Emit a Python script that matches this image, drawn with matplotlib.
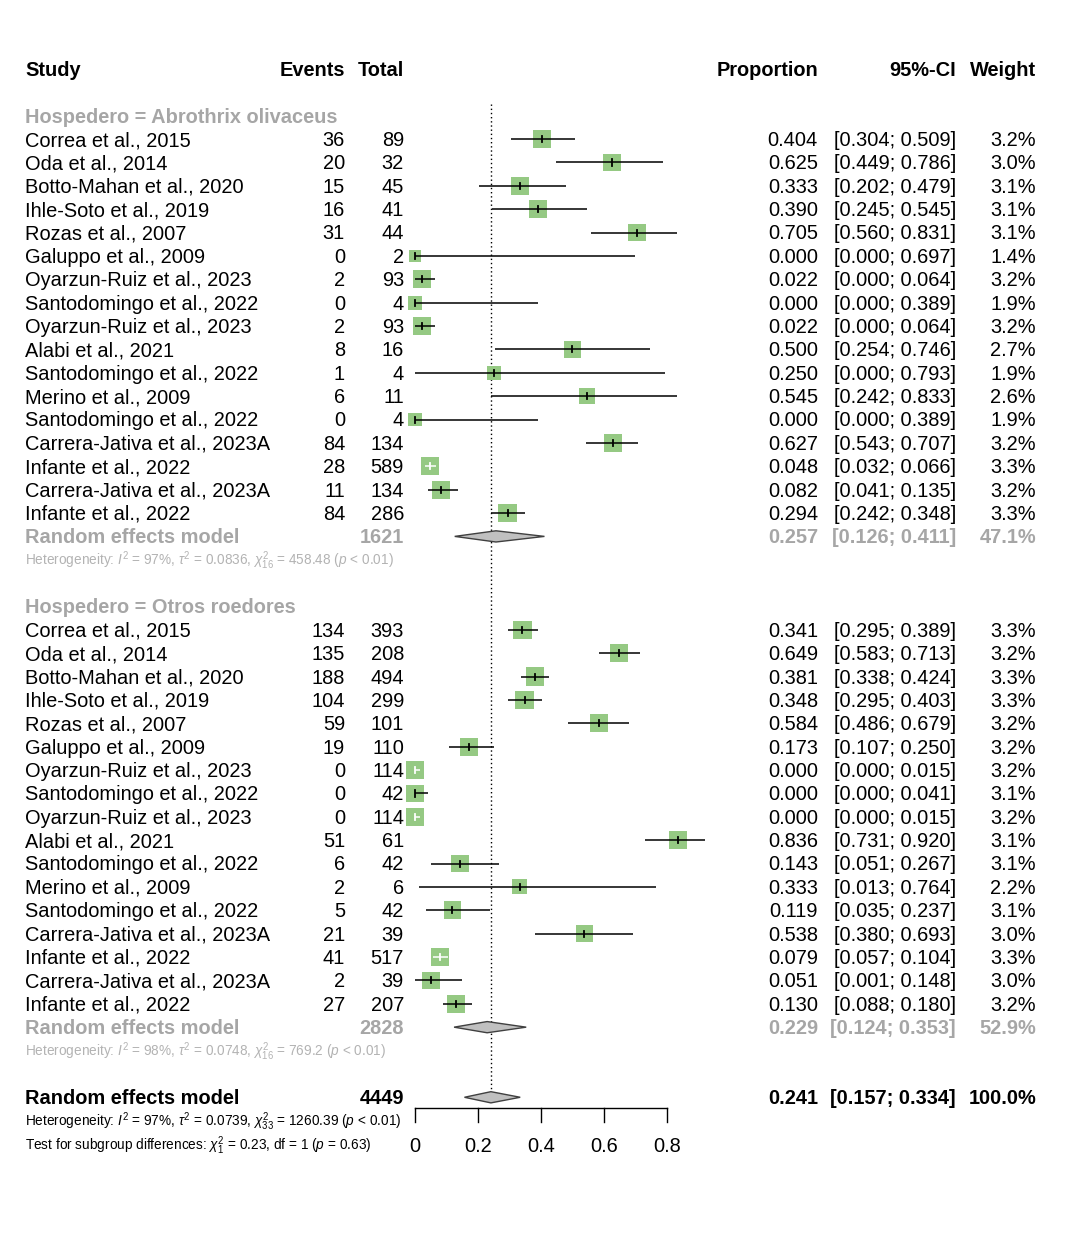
import numpy as np
import matplotlib
matplotlib.use("Agg")
import matplotlib.pyplot as plt
from matplotlib.patches import Polygon

plt.rcParams['font.family'] = ['Liberation Sans', 'DejaVu Sans']
plt.rcParams['mathtext.fontset'] = 'custom'
plt.rcParams['mathtext.rm'] = 'Liberation Sans'
plt.rcParams['mathtext.it'] = 'Liberation Sans:italic'
plt.rcParams['mathtext.bf'] = 'Liberation Sans:bold'

# ---- data -------------------------------------------------------------
studies = ["Correa et al., 2015", "Oda et al., 2014", "Botto-Mahan et al., 2020",
           "Ihle-Soto et al., 2019", "Rozas et al., 2007", "Galuppo et al., 2009",
           "Oyarzun-Ruiz et al., 2023", "Santodomingo et al., 2022",
           "Oyarzun-Ruiz et al., 2023", "Alabi et al., 2021",
           "Santodomingo et al., 2022", "Merino et al., 2009",
           "Santodomingo et al., 2022", "Carrera-Jativa et al., 2023A",
           "Infante et al., 2022", "Carrera-Jativa et al., 2023A",
           "Infante et al., 2022"]

# Hospedero = Abrothrix olivaceus
events_a = [36, 20, 15, 16, 31, 0, 2, 0, 2, 8, 1, 6, 0, 84, 28, 11, 84]
total_a = [89, 32, 45, 41, 44, 2, 93, 4, 93, 16, 4, 11, 4, 134, 589, 134, 286]
prop_a = [0.404, 0.625, 0.333, 0.390, 0.705, 0.000, 0.022, 0.000, 0.022, 0.500,
          0.250, 0.545, 0.000, 0.627, 0.048, 0.082, 0.294]
lo_a = [0.304, 0.449, 0.202, 0.245, 0.560, 0.000, 0.000, 0.000, 0.000, 0.254,
        0.000, 0.242, 0.000, 0.543, 0.032, 0.041, 0.242]
hi_a = [0.509, 0.786, 0.479, 0.545, 0.831, 0.697, 0.064, 0.389, 0.064, 0.746,
        0.793, 0.833, 0.389, 0.707, 0.066, 0.135, 0.348]
weight_a = [3.2, 3.0, 3.1, 3.1, 3.1, 1.4, 3.2, 1.9, 3.2, 2.7, 1.9, 2.6, 1.9,
            3.2, 3.3, 3.2, 3.3]

# Hospedero = Otros roedores
events_b = [134, 135, 188, 104, 59, 19, 0, 0, 0, 51, 6, 2, 5, 21, 41, 2, 27]
total_b = [393, 208, 494, 299, 101, 110, 114, 42, 114, 61, 42, 6, 42, 39, 517, 39, 207]
prop_b = [0.341, 0.649, 0.381, 0.348, 0.584, 0.173, 0.000, 0.000, 0.000, 0.836,
          0.143, 0.333, 0.119, 0.538, 0.079, 0.051, 0.130]
lo_b = [0.295, 0.583, 0.338, 0.295, 0.486, 0.107, 0.000, 0.000, 0.000, 0.731,
        0.051, 0.013, 0.035, 0.380, 0.057, 0.001, 0.088]
hi_b = [0.389, 0.713, 0.424, 0.403, 0.679, 0.250, 0.015, 0.041, 0.015, 0.920,
        0.267, 0.764, 0.237, 0.693, 0.104, 0.148, 0.180]
weight_b = [3.3, 3.2, 3.3, 3.3, 3.2, 3.2, 3.2, 3.1, 3.2, 3.1, 3.1, 2.2, 3.1,
            3.0, 3.3, 3.0, 3.2]

group_labels = ["Hospedero = Abrothrix olivaceus", "Hospedero = Otros roedores"]
re_total = [1621, 2828]
re_est = [0.257, 0.229]
re_lo = [0.126, 0.124]
re_hi = [0.411, 0.353]
re_weight = [47.1, 52.9]
het_text = [r"Heterogeneity: $I^2$ = 97%, $\tau^2$ = 0.0836, $\chi^2_{16}$ = 458.48 ($p$ < 0.01)",
            r"Heterogeneity: $I^2$ = 98%, $\tau^2$ = 0.0748, $\chi^2_{16}$ = 769.2 ($p$ < 0.01)"]

overall_total = 4449
overall_est, overall_lo, overall_hi = 0.241, 0.157, 0.334
overall_het = r"Heterogeneity: $I^2$ = 97%, $\tau^2$ = 0.0739, $\chi^2_{33}$ = 1260.39 ($p$ < 0.01)"
subgroup_test = r"Test for subgroup differences: $\chi^2_1$ = 0.23, df = 1 ($p$ = 0.63)"

xticks = [0, 0.2, 0.4, 0.6, 0.8]

# ---- layout -------------------------------------------------------------
W, H = 1068, 1242
px_per_unit = 315.0
x0_px = 415.0
row0_px = 69.0
row_px = 23.37

fig = plt.figure(figsize=(W / 100, H / 100), dpi=100)
ax = fig.add_axes([0, 0, 1, 1])
ax.set_xlim(-x0_px / px_per_unit, (W - x0_px) / px_per_unit)
ax.set_ylim((H - row0_px) / row_px, -row0_px / row_px)
ax.axis('off')

tr = ax.get_yaxis_transform()  # x in axes fraction, y in data rows


def col(px):
    return px / W


FS = 14.4
SMALL = 9.8
GREY = '#a6a6a6'
SQ = '#95c983'
TXT_DY = 0.06  # text sits a touch lower than the marks


def txt(x, y, s, ha='left', color='black', weight='normal', size=FS):
    ax.text(col(x), y + TXT_DY, s, transform=tr, ha=ha, va='center', color=color,
            fontweight=weight, fontsize=size)


# header
for x, s, ha in [(25, "Study", 'left'), (345, "Events", 'right'), (404, "Total", 'right'),
                 (818, "Proportion", 'right'), (956, "95%-CI", 'right'),
                 (1036, "Weight", 'right')]:
    txt(x, 0, s, ha=ha, weight='bold')

side_ref = 18.0  # px side for weight 3.2%


def draw_diamond(y, est, lo, hi, h=0.24):
    poly = Polygon([[lo, y], [est, y - h], [hi, y], [est, y + h]], closed=True,
                   facecolor='#c0c0c0', edgecolor='#404040', linewidth=1.0, zorder=3)
    ax.add_patch(poly)


groups = [
    (events_a, total_a, prop_a, lo_a, hi_a, weight_a),
    (events_b, total_b, prop_b, lo_b, hi_b, weight_b),
]

start = 2
for g, (ev, tot, pr, lo, hi, wt) in enumerate(groups):
    txt(25, start, group_labels[g], color=GREY, weight='bold')
    for i in range(len(studies)):
        y = start + 1 + i
        txt(25, y, studies[i])
        txt(345, y, str(ev[i]), ha='right')
        txt(404, y, str(tot[i]), ha='right')
        txt(818, y, f"{pr[i]:.3f}", ha='right')
        txt(956, y, f"[{lo[i]:.3f}; {hi[i]:.3f}]", ha='right')
        txt(1036, y, f"{wt[i]:.1f}%", ha='right')
        side = side_ref * np.sqrt(wt[i] / 3.2)
        half = side / 2 / px_per_unit
        inside = (lo[i] >= pr[i] - half) and (hi[i] <= pr[i] + half)
        lc = 'white' if inside else 'black'
        ax.scatter([pr[i]], [y], marker='s', s=(side * 0.72) ** 2, color=SQ,
                   edgecolors='none', zorder=2)
        ax.plot([lo[i], hi[i]], [y, y], color=lc, lw=1.1, zorder=3,
                solid_capstyle='butt')
        ax.plot([pr[i], pr[i]], [y - 0.13, y + 0.13], color=lc, lw=1.3, zorder=3)
    y = start + 1 + len(studies)
    txt(25, y, "Random effects model", color=GREY, weight='bold')
    txt(404, y, str(re_total[g]), ha='right', color=GREY, weight='bold')
    txt(818, y, f"{re_est[g]:.3f}", ha='right', color=GREY, weight='bold')
    txt(956, y, f"[{re_lo[g]:.3f}; {re_hi[g]:.3f}]", ha='right', color=GREY, weight='bold')
    txt(1036, y, f"{re_weight[g]:.1f}%", ha='right', color=GREY, weight='bold')
    draw_diamond(y, re_est[g], re_lo[g], re_hi[g])
    txt(25, y + 1, het_text[g], color='#b3b3b3', size=SMALL)
    start = y + 3

# overall
y = start
txt(25, y, "Random effects model", weight='bold')
txt(404, y, str(overall_total), ha='right', weight='bold')
txt(818, y, f"{overall_est:.3f}", ha='right', weight='bold')
txt(956, y, f"[{overall_lo:.3f}; {overall_hi:.3f}]", ha='right', weight='bold')
txt(1036, y, "100.0%", ha='right', weight='bold')
draw_diamond(y, overall_est, overall_lo, overall_hi)
txt(25, y + 1, overall_het, size=SMALL)
txt(25, y + 2, subgroup_test, size=SMALL)

# reference line
ax.plot([overall_est, overall_est], [1.5, y - 0.2], color='black', lw=1.0,
        linestyle=(0, (1, 2)), zorder=1)

# x axis
ay = y + 0.46
ax.plot([xticks[0], xticks[-1]], [ay, ay], color='black', lw=1.0)
for t in xticks:
    ax.plot([t, t], [ay, ay + 0.6], color='black', lw=1.0)
    ax.text(t, y + 2.1, f"{t:g}", ha='center', va='center', fontsize=FS)

fig.savefig("out.png", dpi=100)
